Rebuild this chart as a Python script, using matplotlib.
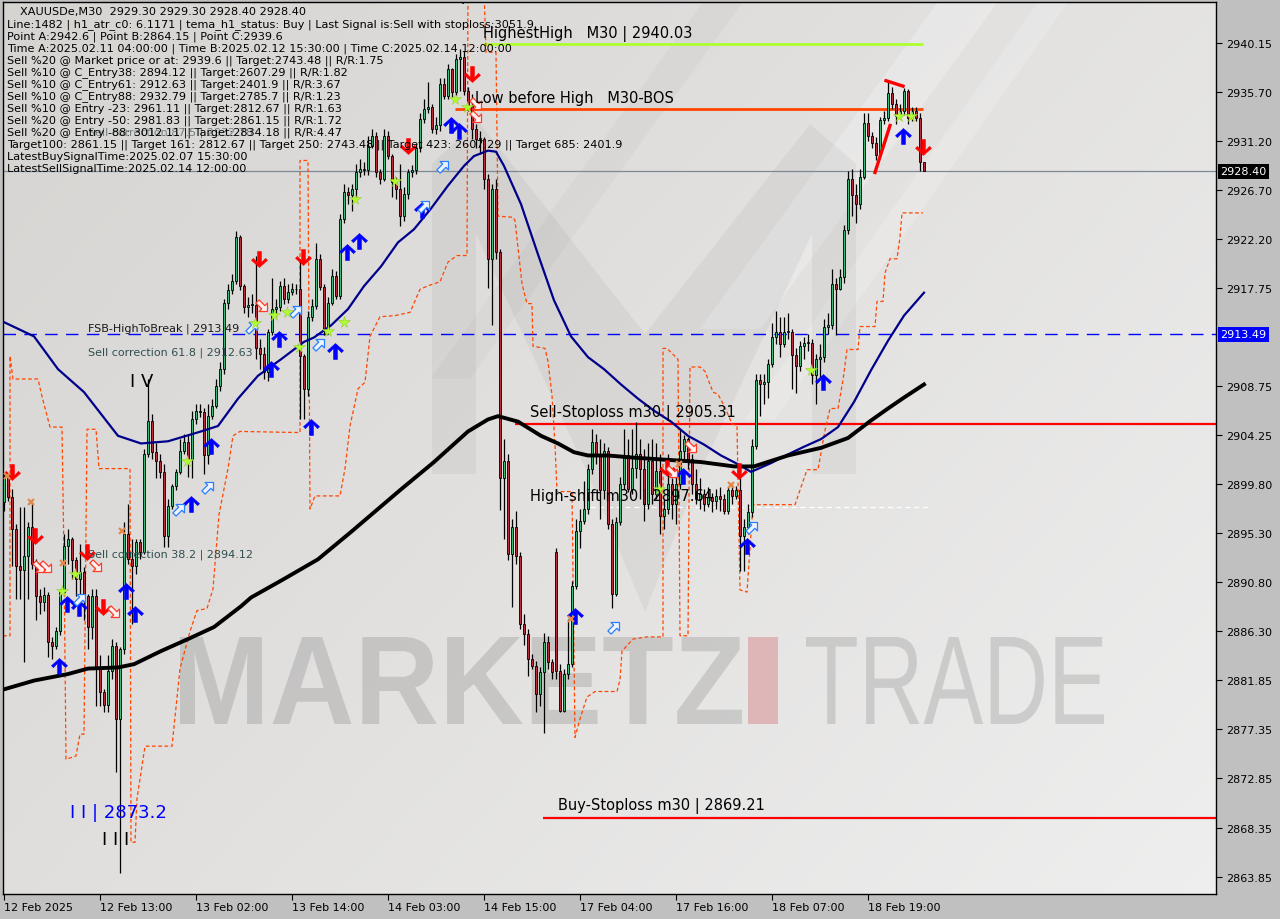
import numpy as np
import matplotlib
matplotlib.use("Agg")
import matplotlib.pyplot as plt
import matplotlib.transforms as mtransforms
from matplotlib.path import Path
from matplotlib.patches import PathPatch, Polygon, Rectangle
from matplotlib.textpath import TextPath
from matplotlib.font_manager import FontProperties

# ---------------- data (XAUUSDe M30, bar index 0 = 12 Feb 01:00) ----------------
OPEN_FIRST = 2898.1
MONDAY_BAR, MONDAY_OPEN = 138, 2893.6

CLOSE = [
    2900.3, 2898.6, 2895.7, 2892.3, 2891.9, 2893.2, 2895.9, 2892.5, 2889.5, 2889.0,
    2889.6, 2885.3, 2885.0, 2886.3, 2889.9, 2894.1, 2894.8, 2892.8, 2891.1, 2891.7,
    2889.5, 2886.7, 2889.5, 2882.9, 2880.8, 2879.6, 2882.7, 2885.0, 2878.3, 2884.7,
    2895.2, 2892.9, 2892.3, 2894.5, 2893.6, 2902.5, 2905.6, 2902.7, 2901.9, 2900.9,
    2895.0, 2897.8, 2899.6, 2900.9, 2902.8, 2903.6, 2902.1, 2905.7, 2906.5, 2906.4,
    2902.4, 2906.0, 2906.9, 2908.8, 2910.3, 2916.4, 2917.5, 2918.4, 2922.4, 2917.9,
    2916.0, 2916.2, 2916.2, 2912.2, 2911.7, 2910.0, 2913.7, 2915.8, 2916.0, 2917.9,
    2916.7, 2917.4, 2917.6, 2917.6, 2911.5, 2908.5, 2915.1, 2916.1, 2920.4, 2917.8,
    2914.0, 2916.4, 2918.8, 2917.0, 2924.0, 2926.5, 2926.2, 2926.8, 2928.3, 2928.6,
    2928.5, 2930.7, 2931.6, 2928.3, 2927.7, 2931.6, 2929.8, 2927.4, 2926.8, 2924.3,
    2926.3, 2928.3, 2928.5, 2930.5, 2933.2, 2934.1, 2934.3, 2932.3, 2932.6, 2936.4,
    2935.3, 2937.8, 2935.7, 2938.7, 2938.9, 2935.8, 2934.4, 2932.3, 2931.4, 2931.4,
    2927.7, 2920.4, 2926.8, 2921.0, 2900.3, 2901.9, 2893.4, 2895.9, 2893.2, 2887.0,
    2886.1, 2883.8, 2883.1, 2880.6, 2882.6, 2885.3, 2883.5, 2882.6, 2882.7, 2879.0,
    2882.4, 2883.3, 2890.5, 2895.5, 2896.4, 2897.5, 2901.2, 2903.6, 2902.4, 2899.2,
    2902.8, 2896.1, 2889.7, 2896.3, 2899.8, 2902.4, 2899.3, 2901.3, 2902.5, 2901.2,
    2898.0, 2901.9, 2898.9, 2901.0, 2896.9, 2897.5, 2899.8, 2898.0, 2899.8, 2902.8,
    2903.9, 2902.1, 2899.8, 2898.4, 2898.9, 2898.0, 2898.6, 2898.2, 2898.7, 2898.4,
    2897.3, 2899.2, 2898.7, 2899.2, 2895.0, 2895.9, 2897.2, 2903.3, 2909.3, 2908.9,
    2909.1, 2910.8, 2913.2, 2913.7, 2912.6, 2913.7, 2913.7, 2911.6, 2910.6, 2912.4,
    2912.7, 2912.7, 2909.8, 2911.2, 2911.4, 2914.2, 2914.3, 2918.1, 2917.6, 2918.7,
    2923.0, 2927.7, 2926.2, 2925.4, 2927.9, 2932.8, 2931.6, 2931.0, 2929.9, 2933.1,
    2933.3, 2935.6, 2934.6, 2933.5, 2933.9, 2935.8, 2933.3, 2933.9, 2933.3, 2929.3,
    2928.4,
]
HIGH = [
    2900.7, 2900.4, 2899.3, 2896.1, 2897.7, 2897.7, 2896.3, 2898.1, 2892.9, 2890.2,
    2890.4, 2889.9, 2885.8, 2886.7, 2890.2, 2895.2, 2895.7, 2894.9, 2893.1, 2894.3,
    2892.2, 2889.7, 2890.2, 2890.2, 2884.1, 2881.0, 2884.1, 2885.6, 2885.3, 2884.9,
    2896.3, 2898.0, 2894.8, 2894.8, 2894.8, 2903.0, 2909.4, 2906.2, 2903.5, 2902.5,
    2901.6, 2898.4, 2899.8, 2901.2, 2903.9, 2904.4, 2904.4, 2906.5, 2907.1, 2907.1,
    2906.7, 2907.1, 2907.6, 2909.4, 2911.0, 2916.7, 2918.1, 2919.0, 2922.9, 2922.6,
    2918.1, 2916.9, 2917.2, 2920.7, 2913.1, 2912.3, 2914.0, 2918.6, 2916.7, 2918.4,
    2918.6, 2918.1, 2918.2, 2918.1, 2920.4, 2911.7, 2915.6, 2916.7, 2921.8, 2920.8,
    2918.1, 2916.9, 2919.5, 2919.3, 2924.5, 2927.2, 2927.0, 2927.2, 2929.1, 2929.5,
    2929.3, 2931.6, 2932.3, 2932.0, 2928.6, 2932.3, 2932.1, 2930.0, 2927.9, 2929.1,
    2927.0, 2928.6, 2929.0, 2930.9, 2933.7, 2935.0, 2936.6, 2934.6, 2933.4, 2936.9,
    2936.9, 2938.2, 2937.9, 2939.1, 2939.6, 2939.4, 2936.1, 2935.5, 2932.7, 2932.1,
    2931.5, 2928.2, 2927.2, 2927.7, 2921.3, 2903.9, 2902.5, 2896.6, 2897.3, 2893.6,
    2887.9, 2886.5, 2884.2, 2883.6, 2883.0, 2886.2, 2885.9, 2883.8, 2893.9, 2883.3,
    2882.9, 2887.4, 2890.9, 2896.6, 2897.5, 2900.1, 2901.6, 2904.8, 2904.4, 2903.9,
    2903.5, 2903.2, 2896.6, 2896.8, 2900.4, 2904.8, 2903.9, 2904.8, 2905.5, 2903.9,
    2903.0, 2903.5, 2903.9, 2903.5, 2902.5, 2898.4, 2902.5, 2900.3, 2901.2, 2904.8,
    2904.3, 2904.1, 2902.5, 2901.2, 2900.3, 2899.3, 2899.5, 2899.0, 2899.3, 2899.5,
    2898.9, 2899.5, 2899.8, 2899.6, 2900.3, 2896.6, 2898.0, 2903.9, 2909.9, 2909.9,
    2909.9, 2911.2, 2914.5, 2915.6, 2915.1, 2915.1, 2915.4, 2914.0, 2912.2, 2912.9,
    2913.2, 2913.5, 2913.1, 2911.7, 2912.6, 2914.9, 2915.4, 2919.5, 2918.6, 2919.5,
    2923.5, 2928.4, 2928.6, 2927.2, 2928.6, 2933.7, 2933.7, 2932.0, 2931.5, 2933.4,
    2933.9, 2936.8, 2936.1, 2935.0, 2934.6, 2936.0, 2935.9, 2934.3, 2934.3, 2933.7,
    2929.3,
]
LOW = [
    2897.3, 2898.2, 2892.3, 2889.3, 2889.3, 2883.5, 2889.3, 2892.0, 2887.3, 2887.9,
    2888.2, 2884.0, 2883.8, 2884.7, 2886.0, 2889.7, 2892.5, 2891.1, 2889.5, 2889.3,
    2887.3, 2884.7, 2885.6, 2879.5, 2879.5, 2878.9, 2878.9, 2881.9, 2873.4, 2864.15,
    2884.2, 2892.5, 2887.0, 2891.6, 2892.9, 2893.4, 2902.3, 2902.1, 2900.3, 2900.3,
    2894.0, 2894.0, 2897.5, 2899.2, 2900.7, 2902.5, 2900.4, 2900.3, 2905.3, 2905.9,
    2900.7, 2901.6, 2905.7, 2906.7, 2908.3, 2909.9, 2915.8, 2917.2, 2918.1, 2917.5,
    2915.4, 2915.1, 2915.4, 2911.2, 2910.3, 2909.4, 2909.2, 2913.4, 2915.1, 2915.6,
    2916.3, 2916.4, 2917.1, 2917.2, 2905.7, 2905.7, 2907.8, 2914.7, 2915.8, 2917.5,
    2913.4, 2913.5, 2916.2, 2916.7, 2916.7, 2923.7, 2925.4, 2924.8, 2925.9, 2927.9,
    2928.1, 2928.1, 2930.5, 2927.9, 2927.2, 2927.5, 2929.5, 2926.1, 2925.9, 2923.4,
    2923.9, 2925.9, 2927.9, 2928.2, 2930.2, 2932.8, 2933.7, 2931.9, 2931.8, 2932.1,
    2935.0, 2935.0, 2935.2, 2935.4, 2935.8, 2935.4, 2933.9, 2931.4, 2930.5, 2930.0,
    2926.8, 2917.7, 2914.3, 2920.4, 2897.4, 2894.8, 2892.8, 2888.5, 2892.5, 2886.5,
    2885.1, 2882.2, 2882.9, 2878.9, 2879.5, 2877.0, 2882.9, 2881.9, 2881.9, 2878.9,
    2878.9, 2881.9, 2883.0, 2890.2, 2893.9, 2896.1, 2897.0, 2900.7, 2901.6, 2896.6,
    2898.4, 2895.7, 2888.4, 2889.5, 2896.0, 2899.3, 2899.1, 2898.9, 2900.3, 2898.4,
    2896.4, 2897.5, 2898.0, 2898.4, 2895.2, 2895.7, 2897.0, 2896.6, 2896.1, 2899.3,
    2902.1, 2901.2, 2898.9, 2898.0, 2897.5, 2897.3, 2897.7, 2897.2, 2897.5, 2897.3,
    2897.0, 2897.0, 2898.0, 2898.4, 2891.8, 2891.8, 2895.2, 2896.8, 2903.0, 2906.0,
    2907.1, 2907.7, 2910.5, 2912.6, 2911.4, 2912.3, 2913.1, 2908.5, 2908.1, 2910.1,
    2911.2, 2912.0, 2908.9, 2907.1, 2909.6, 2911.0, 2913.5, 2914.0, 2913.4, 2917.5,
    2918.2, 2922.7, 2924.3, 2923.7, 2925.0, 2927.7, 2931.2, 2930.5, 2929.4, 2929.7,
    2932.7, 2933.0, 2934.1, 2932.7, 2933.2, 2933.6, 2932.7, 2933.0, 2933.0, 2928.4,
    2928.4,
]

# moving averages (bar, price)
MA_BLUE = [
    (0, 2914.6), (7.5, 2913.3), (13.5, 2910.3), (20, 2908.2), (28.5, 2904.2), (34.25, 2903.5),
    (41, 2903.7), (49.25, 2904.6), (53.5, 2905.1), (58.5, 2907.6), (63.5, 2909.7), (69.25, 2911.2),
    (75, 2912.8), (77.5, 2913.2), (81.75, 2914.3), (86, 2915.8), (90, 2917.9), (94.25, 2919.7),
    (98.5, 2921.9), (102.5, 2923.1), (106.75, 2925.0), (111, 2927.1), (115, 2928.9), (117.5, 2929.8),
    (121, 2930.3), (123, 2930.2), (125, 2928.9), (129.25, 2925.4), (133.5, 2920.8), (137.5, 2916.6),
    (141.75, 2913.3), (146, 2911.4), (150, 2910.3), (154.25, 2908.9), (158.5, 2907.6), (162.5, 2906.5),
    (166.75, 2905.5), (171, 2904.2), (175, 2903.4), (179.25, 2902.4), (183.5, 2901.6), (186.75, 2900.9),
    (191.75, 2901.7), (196, 2902.5), (200, 2903.2), (204.25, 2903.9), (208.5, 2905.0), (212.5, 2907.3),
    (216.75, 2910.2), (221, 2912.9), (225, 2915.2), (230, 2917.3),
]
MA_BLACK = [
    (0, 2881.0), (7.5, 2881.8), (16, 2882.4), (21, 2882.9), (28.5, 2883.0), (32.5, 2883.3),
    (39.25, 2884.5), (46, 2885.6), (52.5, 2886.7), (59.25, 2888.6), (61.75, 2889.4), (70, 2891.1),
    (78.5, 2892.9), (86.75, 2895.4), (99.25, 2899.3), (107.5, 2901.8), (116, 2904.6), (121, 2905.7),
    (123.5, 2906.0), (128.5, 2905.5), (134.25, 2904.2), (138.5, 2903.5), (142.5, 2902.7), (146, 2902.4),
    (151, 2902.4), (157.5, 2902.2), (166, 2902.0), (174.25, 2901.8), (182.5, 2901.4), (187.5, 2901.4),
    (196, 2902.4), (204.25, 2903.1), (211, 2904.0), (216.75, 2905.6), (221, 2906.7), (225, 2907.7),
    (230, 2908.9),
]

# dashed channel (bar, price)
CHANNEL = [
    (-0.25, 2885.9), (1.5, 2885.9), (1.5, 2911.5), (2.25, 2909.4), (8.5, 2909.4), (9.5, 2907.8),
    (11.5, 2905.0), (14.5, 2905.0), (15, 2892.9), (15.5, 2874.6), (18, 2874.9), (19, 2876.9),
    (20, 2876.9), (20.75, 2904.8), (23, 2904.8), (23.75, 2901.2), (31.5, 2901.2), (31.75, 2867.0),
    (32.75, 2867.0), (33.25, 2871.0), (35.25, 2875.8), (42, 2875.8), (44, 2882.9), (46.5, 2886.3),
    (48.25, 2888.2), (50.75, 2888.4), (52.25, 2890.2), (53.75, 2897.0), (56, 2901.2), (57.25, 2904.2),
    (59, 2904.6), (74, 2904.5), (74, 2929.4), (76, 2929.4), (76.5, 2897.5), (77.75, 2898.7),
    (84, 2898.7), (85.25, 2901.2), (86.5, 2905.1), (88.5, 2908.5), (90.25, 2909.1), (91.5, 2913.3),
    (94, 2915.1), (97.75, 2915.2), (101.5, 2915.5), (104, 2917.6), (105.75, 2917.9), (109, 2918.3),
    (111, 2920.1), (113.25, 2920.7), (115.75, 2920.7), (116, 2945.1), (120, 2945.1), (120.5, 2939.3),
    (123, 2939.3), (123.5, 2924.3), (127.25, 2924.2), (127.75, 2923.9), (129.5, 2918.1), (130.75, 2916.3),
    (132, 2916.3), (132.25, 2912.4), (135.25, 2912.2), (136, 2911.0), (137, 2907.9), (137.75, 2903.4),
    (138.25, 2899.1), (142, 2899.1), (142.75, 2876.6), (144, 2878.3), (145.75, 2880.3), (147.75, 2880.8),
    (153.25, 2880.8), (154, 2881.9), (154.5, 2884.5), (157.25, 2885.6), (160.75, 2885.8), (164.75, 2885.8),
    (164.75, 2912.2), (165.75, 2912.2), (168.5, 2911.2), (169, 2885.9), (171, 2885.9), (171.5, 2910.5),
    (174, 2910.5), (175.25, 2910.1), (177.25, 2908.2), (178.5, 2908.0), (180.25, 2906.8), (182, 2905.3),
    (183.25, 2905.1), (184, 2890.1), (185.75, 2889.9), (187.25, 2897.9), (197.75, 2897.9), (200.75, 2901.1),
    (203.5, 2901.1), (205.25, 2904.7), (206.5, 2906.7), (208.5, 2906.7), (209.75, 2909.3), (210.75, 2912.1),
    (213.5, 2912.1), (214, 2914.2), (217.75, 2914.2), (218.25, 2916.5), (219.75, 2916.5), (220.25, 2919.1),
    (221.5, 2920.4), (223.25, 2920.4), (224, 2922.4), (224.5, 2924.6), (229.75, 2924.6),
]

BUY_ARROWS = [(13.75, 2883.1), (15.75, 2888.8), (18.75, 2888.4), (30.5, 2890.0), (32.75, 2887.9),
              (46.75, 2898.0), (51.75, 2903.3), (66.75, 2910.3), (68.75, 2913.1), (76.75, 2905.0),
              (82.75, 2912.0), (85.75, 2921.0), (88.75, 2922.0), (104.5, 2924.9), (111.75, 2932.6),
              (113.75, 2932.1), (142.75, 2887.7), (169.75, 2900.5), (185.75, 2894.1), (204.75, 2909.1),
              (224.75, 2931.6)]
SELL_ARROWS = [(2, 2900.9), (7.75, 2895.0), (20.75, 2893.6), (24.75, 2888.5), (63.75, 2920.4),
               (74.75, 2920.6), (101, 2930.7), (117, 2937.3), (165.75, 2901.3), (183.75, 2901.0),
               (229.75, 2930.6)]
BUY_HOLLOW = [(43.75, 2897.5), (51, 2899.5), (19, 2889.3), (62, 2914.2), (73, 2915.6), (78.75, 2912.6),
              (105, 2925.2), (109.75, 2928.9), (152.5, 2886.7), (187, 2895.9)]
SELL_HOLLOW = [(8.75, 2892.2), (10.5, 2892.2), (23, 2892.3), (27.5, 2888.1), (64.5, 2916.1),
               (118, 2934.6), (118, 2933.4), (171.75, 2903.2), (167, 2900.9)]
STARS = [(14.5, 2890.0), (17.75, 2891.6), (45.75, 2901.9), (62.75, 2914.5), (67.5, 2915.3),
         (70.75, 2915.5), (73.75, 2912.3), (81, 2913.8), (85, 2914.6), (87.75, 2925.9), (97.75, 2927.5),
         (112.75, 2935.0), (115.75, 2934.3), (163.75, 2899.3), (201.75, 2910.2), (223.75, 2933.5),
         (226.75, 2933.5)]
CROSSES = [(0.75, 2900.5), (6.75, 2898.1), (14.75, 2892.6), (29.5, 2895.5), (141.75, 2887.4),
           (168.75, 2901.6), (181.75, 2899.7)]

HIGHEST_HIGH = 2940.03
LOW_BEFORE_HIGH = 2934.15
SELL_SL = 2905.31
BUY_SL = 2869.21
HIGH_SHIFT = 2897.64
FSB_LEVEL = 2913.49
LAST_PRICE = 2928.40

XTICK_BARS = [0, 24, 48, 72, 96, 120, 144, 168, 192, 216]
XTICK_LABELS = ["12 Feb 2025", "12 Feb 13:00", "13 Feb 02:00", "13 Feb 14:00", "14 Feb 03:00",
                "14 Feb 15:00", "17 Feb 04:00", "17 Feb 16:00", "18 Feb 07:00", "18 Feb 19:00"]
YTICKS = [2940.15, 2935.70, 2931.20, 2926.70, 2922.20, 2917.75, 2908.75, 2904.25, 2899.80,
          2895.30, 2890.80, 2886.30, 2881.85, 2877.35, 2872.85, 2868.35, 2863.85]

INFO_LINES = [
    "Line:1482 | h1_atr_c0: 6.1171 | tema_h1_status: Buy | Last Signal is:Sell with stoploss:3051.9",
    "Point A:2942.6 | Point B:2864.15 | Point C:2939.6",
    "Time A:2025.02.11 04:00:00 | Time B:2025.02.12 15:30:00 | Time C:2025.02.14 12:00:00",
    "Sell %20 @ Market price or at: 2939.6 || Target:2743.48 || R/R:1.75",
    "Sell %10 @ C_Entry38: 2894.12 || Target:2607.29 || R/R:1.82",
    "Sell %10 @ C_Entry61: 2912.63 || Target:2401.9 || R/R:3.67",
    "Sell %10 @ C_Entry88: 2932.79 || Target:2785.7 || R/R:1.23",
    "Sell %10 @ Entry -23: 2961.11 || Target:2812.67 || R/R:1.63",
    "Sell %20 @ Entry -50: 2981.83 || Target:2861.15 || R/R:1.72",
    "Sell %20 @ Entry -88: 3012.11 || Target:2834.18 || R/R:4.47",
    "Target100: 2861.15 || Target 161: 2812.67 || Target 250: 2743.48 || Target 423: 2607.29 || Target 685: 2401.9",
    "LatestBuySignalTime:2025.02.07 15:30:00",
    "LatestSellSignalTime:2025.02.14 12:00:00",
]

# ---------------- figure ----------------
W, H = 1280, 920
fig = plt.figure(figsize=(W / 100, H / 100), dpi=100, facecolor="#c0c0c0")
ax = fig.add_axes([3 / W, 1 - 895 / H, 1213 / W, 892 / H])
pix = mtransforms.Affine2D().scale(1 / W, -1 / H).translate(0, 1) + fig.transFigure

ax.set_xlim(-0.25, 303)
ax.set_ylim(2862.27, 2943.9)

# background shading
gx, gy = np.meshgrid(np.linspace(0, 1, 200), np.linspace(1, 0, 200))
t = np.clip(0.6 * gx + 0.4 * (1 - gy), 0, 1)
c0 = np.array([0.84, 0.832, 0.822])
c1 = np.array([0.935, 0.935, 0.935])
bg = c0[None, None, :] * (1 - t[..., None]) + c1[None, None, :] * t[..., None]
ax.imshow(bg, extent=(0, 1, 0, 1), transform=ax.transAxes, aspect="auto", zorder=0,
          interpolation="bilinear")

# watermark
for verts, col, al in [
    ([(700, 330), (760, 330), (1000, 0), (940, 0)], "white", 0.25),
    ([(745, 420), (775, 420), (1070, 0), (1040, 0)], "white", 0.2),
    ([(430, 380), (470, 380), (745, 0), (705, 0)], "black", 0.025),
]:
    ax.add_patch(Polygon(verts, closed=True, transform=pix, facecolor=col, edgecolor="none",
                         alpha=al, zorder=0.5))
m_shape = [(432, 165), (478, 122), (645, 335), (810, 125), (856, 165), (856, 475), (812, 475),
           (812, 235), (700, 473), (645, 613), (587, 473), (476, 235), (476, 475), (432, 475)]
ax.add_patch(Polygon(m_shape, closed=True, transform=pix, facecolor="black", edgecolor="none",
                     alpha=0.045, zorder=0.6))


def wordmark(text, box, weight, color, alpha):
    tp = TextPath((0, 0), text, size=100, prop=FontProperties(family="Liberation Sans", weight=weight))
    bb = tp.get_extents()
    x0, y0, x1, y1 = box
    tr = (mtransforms.Affine2D().translate(-bb.x0, -bb.y0)
          .scale((x1 - x0) / bb.width, -(y1 - y0) / bb.height).translate(x0, y1) + pix)
    ax.add_patch(PathPatch(tp, transform=tr, facecolor=color, edgecolor="none", alpha=alpha, zorder=0.7))


wordmark("MARKETZ", (180, 638, 742, 725), "bold", "black", 0.12)
ax.add_patch(Rectangle((748, 638), 30, 87, transform=pix, facecolor="#d8888c", alpha=0.5,
                       edgecolor="none", zorder=0.7))
wordmark("TRADE", (806, 638, 1104, 725), "normal", "black", 0.12)

# horizontal levels
ax.axhline(LAST_PRICE, color="#7d8896", lw=0.9, zorder=1)
ax.axhline(FSB_LEVEL, color="#0000ff", lw=1.0, ls=(0, (9, 6)), zorder=1.5)
ax.hlines(HIGHEST_HIGH, 119.75, 229.75, color="#adff2f", lw=2, zorder=2)
ax.hlines(LOW_BEFORE_HIGH, 112.75, 229.75, color="#ff4500", lw=2, zorder=2)
ax.hlines(SELL_SL, 127.75, 303, color="#ff0000", lw=1.6, zorder=2)
ax.hlines(BUY_SL, 134.75, 303, color="#ff0000", lw=1.6, zorder=2)
ax.hlines(HIGH_SHIFT, 146.5, 231, color="white", lw=0.9, ls=(0, (4, 3)), zorder=2)

# dashed channel
cx, cy = zip(*CHANNEL)
ax.plot(cx, cy, color="#ff4500", lw=0.9, ls=(0, (3, 2)), zorder=2.2)

# candles
c = np.array(CLOSE)
h = np.array(HIGH)
l = np.array(LOW)
o = np.r_[OPEN_FIRST, c[:-1]]
o[MONDAY_BAR] = MONDAY_OPEN
h = np.maximum(h, np.maximum(o, c))
l = np.minimum(l, np.minimum(o, c))
idx = np.arange(len(c))
ax.vlines(idx, l, h, color="black", lw=0.9, zorder=3)
bull = c >= o
body = np.maximum(np.abs(c - o), 0.07)
bot = np.minimum(o, c)
ax.bar(idx[bull], body[bull], bottom=bot[bull], width=0.62, color="#3dbb7a",
       edgecolor="black", linewidth=0.6, zorder=3.5)
ax.bar(idx[~bull], body[~bull], bottom=bot[~bull], width=0.62, color="#b82c3c",
       edgecolor="black", linewidth=0.6, zorder=3.5)

# moving averages
bx, by = zip(*MA_BLUE)
ax.plot(bx, by, color="#00008b", lw=1.6, zorder=4)
kx, ky = zip(*MA_BLACK)
ax.plot(kx, ky, color="black", lw=2.8, zorder=4)

# zigzag of the last swing
ax.plot([217.75, 221.5], [2928.3, 2932.6], color="#ff0000", lw=2.4, zorder=4.5)
ax.plot([220.5, 224.75], [2936.7, 2936.2], color="#ff0000", lw=2.4, zorder=4.5)

# signal markers
up_verts = [(0, 0.5), (0.5, 0.05), (0.38, -0.07), (0.12, 0.2), (0.12, -0.5), (-0.12, -0.5),
            (-0.12, 0.2), (-0.38, -0.07), (-0.5, 0.05), (0, 0.5)]
up_arrow = Path(up_verts, closed=True)
down_arrow = Path([(x, -y) for x, y in up_verts], closed=True)
block = Path([(0, 0.5), (0.42, 0.08), (0.16, 0.08), (0.16, -0.5), (-0.16, -0.5), (-0.16, 0.08),
              (-0.42, 0.08), (0, 0.5)], closed=True)
diag_up = block.transformed(mtransforms.Affine2D().rotate_deg(-45))
diag_down = block.transformed(mtransforms.Affine2D().rotate_deg(-135))


def marks(points, **kw):
    xs, ys = zip(*points)
    ax.plot(xs, ys, ls="none", zorder=6, **kw)


marks(BUY_ARROWS, marker=up_arrow, ms=11.5, mfc="#0000ff", mec="#0000ff", mew=0.4)
marks(SELL_ARROWS, marker=down_arrow, ms=11.5, mfc="#ff0000", mec="#ff0000", mew=0.4)
marks(BUY_HOLLOW, marker=diag_up, ms=9.5, mfc="#f0f6ff", mec="#2a7fff", mew=0.9)
marks(SELL_HOLLOW, marker=diag_down, ms=9.5, mfc="#fff2f0", mec="#ff3b2a", mew=0.9)
marks(STARS, marker="*", ms=8.5, mfc="#adff2f", mec="#9acd32", mew=0.4)
marks(CROSSES, marker="x", ms=5, mec="#e08a4c", mew=1.6)

# chart labels
big = dict(fontsize=10.5, color="black", va="center", ha="left", zorder=7)
ax.text(119.75, 2941.07, "HighestHigh   M30 | 2940.03", **big)
ax.text(117.75, 2935.2, "Low before High   M30-BOS", **big)
ax.text(131.5, 2906.38, "Sell-Stoploss m30 | 2905.31", **big)
ax.text(131.5, 2898.7, "High-shift m30 | 2897.64", **big)
ax.text(138.5, 2870.4, "Buy-Stoploss m30 | 2869.21", **big)
small = dict(fontsize=8, va="center", ha="left", zorder=7)
ax.text(21, 2914.07, "FSB-HighToBreak | 2913.49", color="#1a1a1a", **small)
ax.text(21, 2911.9, "Sell correction 61.8 | 2912.63", color="#2f4f4f", **small)
ax.text(21, 2893.4, "Sell correction 38.2 | 2894.12", color="#2f4f4f", **small)
ax.text(21, 2932.0, "Sell correction 87.5 | 2932.78", color="#5a6a6a", alpha=0.8, **small)
wave = dict(fontsize=13, va="center", ha="left", zorder=7)
ax.text(31.5, 2909.2, "I V", color="black", **wave)
ax.text(16.5, 2869.8, "I I | 2873.2", color="#0000ff", **wave)
ax.text(24.5, 2867.3, "I I I", color="black", **wave)
ax.text(108.5, 2944.6, "I I | 2939.6", color="black", clip_on=True, **wave)

# info block
fig.text(20 / W, 1 - 12.5 / H, "XAUUSDe,M30  2929.30 2929.30 2928.40 2928.40",
         fontsize=8.1, va="center", ha="left", color="black")
for k, line in enumerate(INFO_LINES):
    fig.text(7 / W, 1 - (24.5 + 12 * k) / H, line, fontsize=8.1, va="center", ha="left", color="black")

# axes styling
for s in ax.spines.values():
    s.set_color("black")
    s.set_linewidth(1.0)
ax.set_xticks(XTICK_BARS)
ax.set_xticklabels(XTICK_LABELS)
for lab in ax.get_xticklabels():
    lab.set_horizontalalignment("left")
ax.tick_params(axis="x", direction="out", length=4, pad=2, labelsize=8, colors="black")
ax.yaxis.tick_right()
ax.set_yticks(YTICKS)
ax.set_yticklabels([f"{v:.2f}" for v in YTICKS])
ax.tick_params(axis="y", direction="out", length=4, pad=3, labelsize=8, colors="black")

yt = mtransforms.blended_transform_factory(ax.transAxes, ax.transData)
ax.text(1.0035, LAST_PRICE, f"{LAST_PRICE:.2f}", transform=yt, fontsize=8, color="white",
        va="center", ha="left", clip_on=False, zorder=8,
        bbox=dict(facecolor="black", edgecolor="none", pad=1.6))
ax.text(1.0035, FSB_LEVEL, f"{FSB_LEVEL:.2f}", transform=yt, fontsize=8, color="white",
        va="center", ha="left", clip_on=False, zorder=8,
        bbox=dict(facecolor="#0000ff", edgecolor="none", pad=1.6))

fig.savefig("out.png", dpi=100, facecolor=fig.get_facecolor())
